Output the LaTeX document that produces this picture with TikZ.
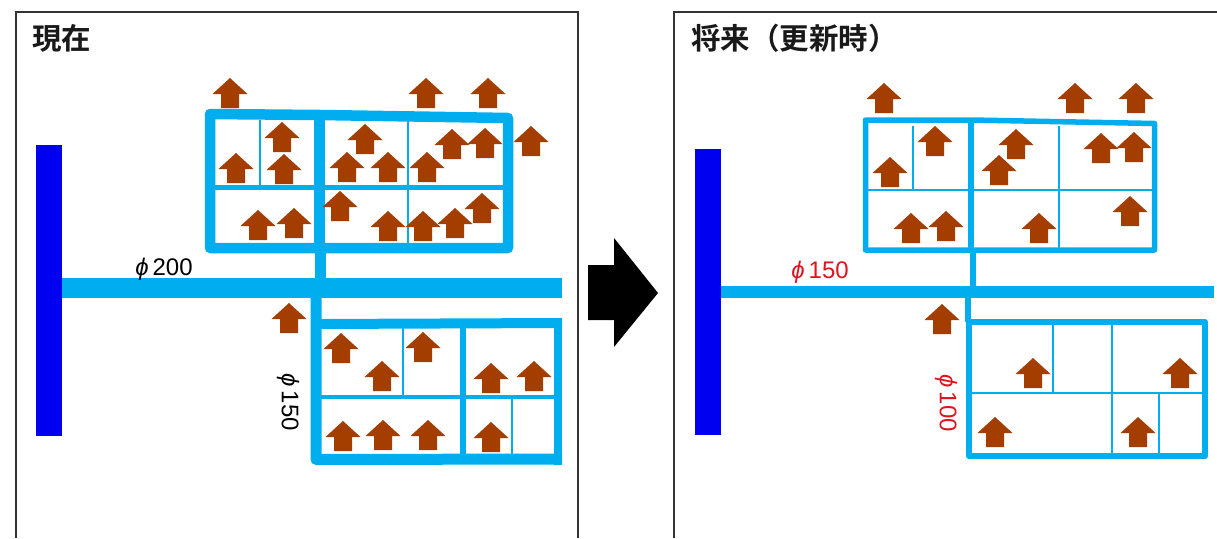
\documentclass[tikz,border=0pt]{standalone}
\usepackage{fontspec}
\setmainfont{Liberation Sans}
\newfontfamily\cjkfont{Noto Sans CJK JP}[BoldFont={Noto Sans CJK JP Bold}]
\definecolor{pipe}{HTML}{00AEEF}
\definecolor{roof}{HTML}{A33E00}
\definecolor{main}{HTML}{0000F0}
\definecolor{pipered}{HTML}{E0141E}
\tikzset{
  pipeline/.style={draw=pipe,line cap=butt,line join=round},
  roofarrow/.style={fill=roof,draw=none},
  panel/.style={draw=black!80,line width=1.2pt},
  title/.style={font=\cjkfont\bfseries\fontsize{29.5}{29.5}\selectfont,anchor=west,inner sep=0pt,text=black!90},
  dia/.style={font=\fontsize{24}{24}\selectfont,inner sep=0pt},
}
\newcommand{\roofs}[1]{\foreach \px/\py in {#1}{%
  \fill[roofarrow] (\px,\py) -- ++(17.5,16) -- ++(-8.5,0) -- ++(0,14) -- ++(-18,0) -- ++(0,-14) -- ++(-8.5,0) -- cycle;}}
\begin{document}
\begin{tikzpicture}[x=1pt,y=-1pt]
\useasboundingbox (0,0) rectangle (1217,538);
\fill[white] (0,0) rectangle (1217,538);
% panels
\draw[panel] (16,538) -- (16,12) -- (578,12) -- (578,538);
\draw[panel] (674,538) -- (674,12) -- (1217,12);
\node[title] (t1) at (32,38) {現在};
\node[title] (t2) at (691,38) {将来（更新時）};
% ---- left
\fill[main] (36,145) rectangle (62,436);
\draw[pipeline,line width=20pt] (62,288) -- (562,288);
\draw[pipeline,line width=10.5pt] (210,114) -- (320,115) -- (508,118) -- (508,248) -- (210,248) -- cycle;
\draw[pipeline,line width=11pt] (319,114) -- (319,248);
\draw[pipeline,line width=11pt] (320.5,248) -- (320.5,288);
\draw[pipeline,line width=5pt] (210,187) -- (508,187);
\draw[pipeline,line width=1.6pt] (260,120) -- (260,185);
\draw[pipeline,line width=2.5pt] (408,120) -- (408,243);
\draw[pipeline,line width=11pt,line join=round] (316,288) -- (316,459.5) -- (562,459);
\draw[pipeline,line width=10pt] (316,324) -- (562,323);
\draw[pipeline,line width=8pt] (558,323) -- (558,464.5);
\draw[pipeline,line width=4.5pt] (316,397) -- (558,397);
\draw[pipeline,line width=6pt] (463,328) -- (463,454);
\draw[pipeline,line width=2pt] (403,328) -- (403,396);
\draw[pipeline,line width=2pt] (512,398) -- (512,454);
\roofs{230/78,426/78,488/78,531/126,282/122,236/153,284/154,365/124,347/152,388/152,427/152,452/129,485/128,340/191,258/210,294/208,388/211,423/211,455/208,482/193,289/303,341/333,382/361,423/332,491/363,534/361,343/421,383/420,428/420,491/422}
\node[dia] (d1) at (164,269) {\textit{ϕ}\,200};
\node[dia,rotate=-90] (d2) at (288,402) {\textit{ϕ}\,150};
% big arrow
\fill[black] (588,265) -- (614,265) -- (614,238) -- (658,293) -- (614,347) -- (614,320) -- (588,320) -- cycle;
% ---- right
\fill[main] (695,149) rectangle (721,435);
\draw[pipeline,line width=12.5pt] (721,292) -- (1214,292);
\draw[pipeline,line width=5.5pt] (865.5,120) -- (971,120) -- (1154.5,123.5) -- (1154.5,250) -- (865.5,250) -- cycle;
\draw[pipeline,line width=6pt] (971,120) -- (971,250);
\draw[pipeline,line width=6pt] (972.5,250) -- (972.5,292);
\draw[pipeline,line width=1.5pt] (865,190) -- (1154,190);
\draw[pipeline,line width=1.5pt] (913,126) -- (913,189);
\draw[pipeline,line width=1.5pt] (1059,126) -- (1059,253);
\draw[pipeline,line width=6pt] (968,292) -- (968,322);
\draw[pipeline,line width=6pt] (969,322) -- (1205,322) -- (1205,456) -- (969,456) -- cycle;
\draw[pipeline,line width=1.6pt] (969,393) -- (1205,393);
\draw[pipeline,line width=2pt] (1112,324) -- (1112,454);
\draw[pipeline,line width=2pt] (1053,324) -- (1053,393);
\draw[pipeline,line width=2pt] (1159,393) -- (1159,454);
\roofs{884/83,1075/83,1136/83,935/126,890/157,1016/129,999/155,1101/133,1134/132,911/213,946/211,1039/213,1130/196,942/304,1033/358,1180/358,995/417,1138/417}
\node[dia,text=pipered] (d3) at (820,272) {\textit{ϕ}\,150};
\node[dia,text=pipered,rotate=-90] (d4) at (946,403) {\textit{ϕ}\,100};
\end{tikzpicture}
\end{document}
